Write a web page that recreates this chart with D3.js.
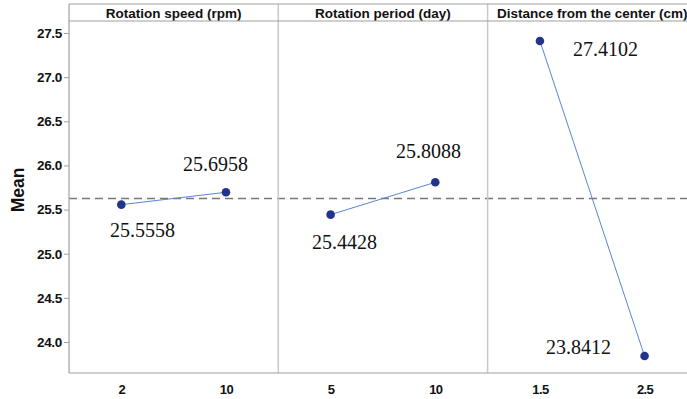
<!DOCTYPE html>
<html>
<head>
<meta charset="utf-8">
<script src="https://cdn.jsdelivr.net/npm/d3@7"></script>
<style>
  body { margin: 0; background: #fff; }
  svg { display: block; }
</style>
</head>
<body>
<svg id="chart" width="687" height="399"></svg>
<script>
// factors of the main effects plot
var factors = ['Rotation speed (rpm)', 'Rotation period (day)', 'Distance from the center (cm)'];
var levels = [['2', '10'], ['5', '10'], ['1.5', '2.5']];
var means = [[25.5558, 25.6958], [25.4428, 25.8088], [27.4102, 23.8412]];
var yTicks = [24.0, 24.5, 25.0, 25.5, 26.0, 26.5, 27.0, 27.5];
var grandMean = 25.6258;

var svg = d3.select('#chart');

var plotLeft = 69, plotTop = 4, headerH = 17, plotBottom = 373;
var panelW = 209.3;

var y = d3.scaleLinear()
  .domain([23.649, 27.636])
  .range([plotBottom, plotTop + headerH]);

var panels = d3.scaleBand()
  .domain(d3.range(factors.length))
  .range([plotLeft, plotLeft + panelW * factors.length])
  .padding(0);

// y axis
var yAxis = d3.axisLeft(y)
  .tickValues(yTicks)
  .tickSize(5)
  .tickPadding(2)
  .tickFormat(d3.format('.1f'));

var gy = svg.append('g')
  .attr('transform', 'translate(' + plotLeft + ',0)')
  .call(yAxis);
gy.select('.domain').remove();
gy.selectAll('.tick line').attr('stroke', '#a0a0a0');
gy.selectAll('.tick text')
  .attr('fill', '#111')
  .style('font-family', 'Liberation Sans, Arial, sans-serif')
  .style('font-weight', 'bold')
  .style('font-size', '13.5px')
  .style('letter-spacing', '-0.3px');

svg.append('text')
  .attr('transform', 'translate(24,190) rotate(-90)')
  .attr('text-anchor', 'middle')
  .style('font-family', 'Liberation Sans, Arial, sans-serif')
  .style('font-weight', 'bold')
  .style('font-size', '17.5px')
  .attr('fill', '#111')
  .text('Mean');

// grand mean reference line
svg.append('line')
  .attr('x1', plotLeft).attr('x2', 687)
  .attr('y1', y(grandMean)).attr('y2', y(grandMean))
  .attr('stroke', '#777')
  .attr('stroke-width', 1.5)
  .attr('stroke-dasharray', '8,5');

var labelPos = [
  [[110, 237], [183, 171]],
  [[312, 249], [396, 158]],
  [[573, 56], [546, 354]]
];

factors.forEach(function (f, i) {
  var x0 = panels(i);
  var x = d3.scalePoint()
    .domain(levels[i])
    .range([x0, x0 + panelW])
    .padding(0.5);

  var g = svg.append('g');

  // header text
  g.append('text')
    .attr('x', x0 + panelW / 2)
    .attr('y', plotTop + 14)
    .attr('text-anchor', 'middle')
    .style('font-family', 'Liberation Sans, Arial, sans-serif')
    .style('font-weight', 'bold')
    .style('font-size', '13.5px')
    .attr('fill', '#111')
    .text(f);

  // x axis labels
  var xAxis = d3.axisBottom(x).tickSize(0).tickPadding(12);
  var gx = g.append('g')
    .attr('transform', 'translate(0,' + plotBottom + ')')
    .call(xAxis);
  gx.select('.domain').remove();
  gx.selectAll('.tick text')
    .attr('fill', '#111')
    .style('font-family', 'Liberation Sans, Arial, sans-serif')
    .style('font-weight', 'bold')
    .style('font-size', '13px')
    .style('letter-spacing', '-0.6px');

  var pts = levels[i].map(function (l, j) {
    return { lv: l, v: means[i][j] };
  });

  g.append('path')
    .datum(pts)
    .attr('fill', 'none')
    .attr('stroke', '#5a86d0')
    .attr('stroke-width', 1)
    .attr('d', d3.line()
      .x(function (d) { return x(d.lv); })
      .y(function (d) { return y(d.v); }));

  g.selectAll('circle')
    .data(pts)
    .enter().append('circle')
    .attr('cx', function (d) { return x(d.lv); })
    .attr('cy', function (d) { return y(d.v); })
    .attr('r', 4.3)
    .attr('fill', '#22358a');

  g.selectAll('.val')
    .data(pts)
    .enter().append('text')
    .attr('class', 'val')
    .attr('x', function (d, j) { return labelPos[i][j][0]; })
    .attr('y', function (d, j) { return labelPos[i][j][1]; })
    .style('font-family', 'Liberation Serif, Times New Roman, serif')
    .style('font-size', '20px')
    .attr('fill', '#111')
    .text(function (d) { return d.v.toFixed(4); });
});

// frame
var frame = svg.append('g').attr('fill', 'none');
d3.range(1, factors.length).forEach(function (i) {
  frame.append('line')
    .attr('x1', panels(i)).attr('x2', panels(i))
    .attr('y1', plotTop).attr('y2', plotBottom)
    .attr('stroke', '#c8c8c8')
    .attr('stroke-width', 1.5);
});
frame.append('line')
  .attr('x1', plotLeft).attr('x2', 687)
  .attr('y1', plotTop).attr('y2', plotTop)
  .attr('stroke', '#a0a0a0').attr('stroke-width', 1.2);
frame.append('line')
  .attr('x1', plotLeft).attr('x2', 687)
  .attr('y1', plotTop + headerH).attr('y2', plotTop + headerH)
  .attr('stroke', '#a0a0a0').attr('stroke-width', 1.2);
frame.append('line')
  .attr('x1', plotLeft).attr('x2', plotLeft)
  .attr('y1', plotTop).attr('y2', plotBottom)
  .attr('stroke', '#a0a0a0').attr('stroke-width', 1.2);
frame.append('line')
  .attr('x1', plotLeft).attr('x2', 687)
  .attr('y1', plotBottom).attr('y2', plotBottom)
  .attr('stroke', '#a0a0a0').attr('stroke-width', 1.2);
</script>
</body>
</html>
